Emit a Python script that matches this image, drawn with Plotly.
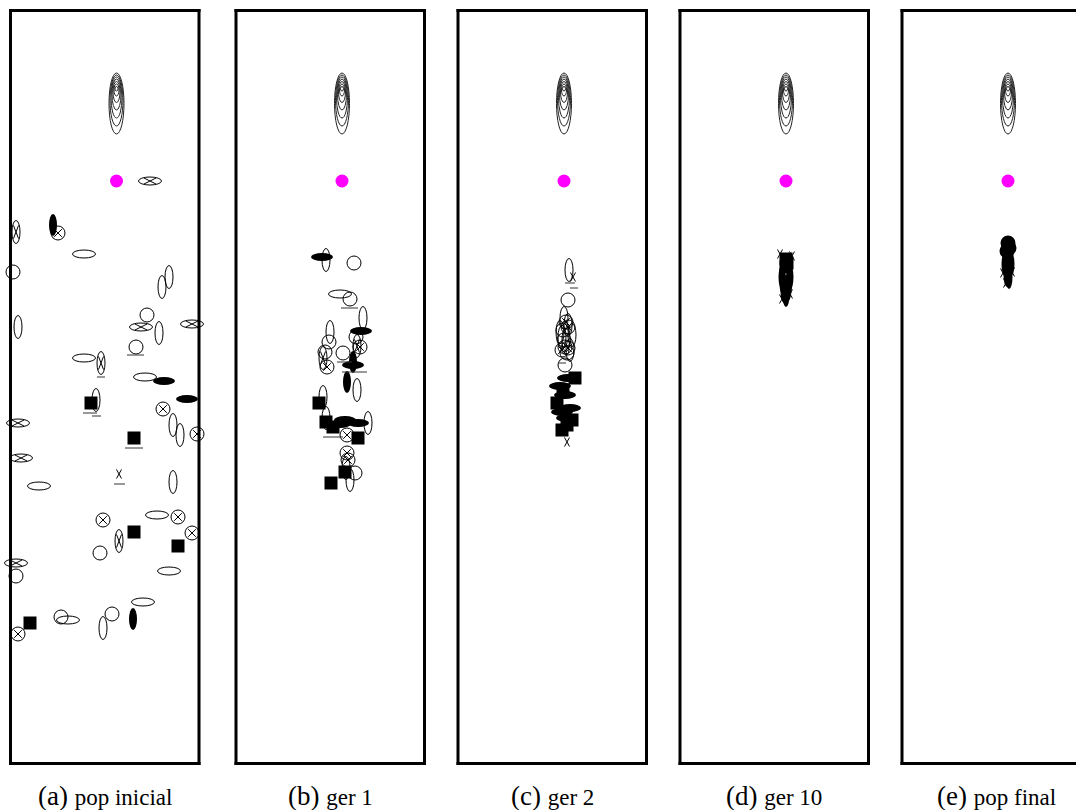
import plotly.graph_objects as go

# ---------------- data (panel coordinates: x right, y down, border box 0..188.5 x 0..753) ----------------
caption_tags = ["(a)", "(b)", "(c)", "(d)", "(e)"]
caption_texts = ["pop inicial", "ger 1", "ger 2", "ger 10", "pop final"]

# objective-function contour rings (centre x, tops, bottoms, half widths)
ring_cx = 106.0
ring_top = [62.5, 64.5, 66.5, 68.5, 71.0, 73.5, 76.0]
ring_bottom = [123.5, 115.5, 107.5, 99.5, 92.0, 85.5, 80.5]
ring_halfw = [7.5, 6.5, 5.5, 4.5, 3.5, 2.5, 1.5]

# global optimum (magenta)
optimum_x = [106.0]
optimum_y = [170.5]

# individuals: (kind, x, y)
pop_inicial = [
    ("hx", 139.5, 170.5), ("V", 42.5, 214.5), ("cx", 47.5, 222.5), ("vx", 5.5, 221.5),
    ("h", 73.5, 243.5), ("c", 2.5, 261.5), ("v", 151.5, 276.5), ("v", 158.5, 266.5),
    ("v", 7.5, 316.5), ("c", 136.5, 304.5), ("hx", 130.5, 316.5), ("v", 148.5, 322.5),
    ("hx", 181.5, 313.5), ("c", 125.5, 336.5), ("h", 73.5, 347.5), ("vx", 90.5, 352.5),
    ("h", 134.5, 366.5), ("H", 153.5, 370.5), ("H", 176.5, 388.5), ("S", 80.5, 392.5),
    ("v", 85.5, 389.5), ("cx", 152.5, 398.5), ("v", 162.5, 414.5), ("v", 169.5, 424.5),
    ("cx", 186.5, 423.5), ("hx", 7.5, 412.5), ("S", 123.5, 427.5), ("hx", 10.5, 447.5),
    ("X", 108.5, 463.5), ("h", 28.5, 475.5), ("v", 162.5, 471.5), ("cx", 92.5, 509.5),
    ("h", 146.5, 504.5), ("cx", 167.5, 506.5), ("S", 123.5, 521.5), ("vx", 108.5, 530.5),
    ("cx", 181.5, 522.5), ("S", 167.5, 535.5), ("c", 89.5, 542.5), ("hx", 5.5, 552.5),
    ("c", 5.5, 565.5), ("h", 158.5, 560.5), ("h", 132.5, 591.5), ("V", 122.5, 608.5),
    ("c", 101.5, 603.5), ("v", 92.5, 617.5), ("c", 50.5, 606.5), ("h", 57.5, 609.5),
    ("S", 19.5, 612.5), ("cx", 7.5, 623.5),
]
pop_inicial_marks = [(116.5, 133.5, 344.5), (86.5, 94.5, 366.5), (72.5, 86.5, 402.5),
                     (81.5, 90.5, 405.5), (114.5, 132.5, 437.5), (103.5, 114.5, 473.5)]

ger_1 = [
    ("H", 86, 246.5), ("v", 90, 249.5), ("c", 118, 252.5), ("h", 104, 283.5),
    ("c", 114, 288.5), ("v", 127, 307.5), ("v", 94, 321.5), ("c", 93, 331.5),
    ("H", 125, 320.5), ("c", 120, 326.5), ("vx", 121, 335.5), ("cx", 124, 336.5),
    ("vx", 87, 347.5), ("cx", 91, 356.5), ("c", 89, 341.5), ("c", 107, 342.5),
    ("H", 117, 354.5), ("V", 117, 351.5), ("V", 111, 371.5), ("v", 121, 379.5),
    ("v", 87, 386.5), ("S", 83, 392.5), ("v", 90, 407.5), ("S", 90, 411.5),
    ("H", 109, 409.5), ("H", 122, 412.5), ("H", 104, 413.5), ("v", 132, 412.5),
    ("S", 97, 416.5), ("cx", 111, 424.5), ("S", 122, 427.5), ("cx", 111, 442.5),
    ("cx", 112, 449.5), ("S", 109, 461.5), ("c", 119, 462.5), ("v", 114, 469.5),
    ("S", 95, 472.5), ("v", 110, 457.5),
]
ger_1_marks = [(105, 122, 297.5), (101, 116, 351.5), (106, 131, 361.5), (87, 107, 426.5)]

ger_2 = [
    ("v", 111, 259.5), ("X", 115, 266.5), ("c", 110, 289.5), ("v", 106, 307.5),
    ("v", 110, 314.5), ("cx", 108, 311.5), ("cx", 110, 316.5), ("c", 105, 319.5),
    ("v", 108, 329.5), ("cx", 110, 337.5), ("c", 107, 336.5), ("v", 112, 339.5),
    ("c", 109, 342.5), ("cx", 104, 339.5), ("c", 107, 354.5), ("v", 104, 326.5),
    ("v", 102, 321.5), ("v", 114, 324.5), ("c", 106, 329.5),
    ("S", 117, 367.5), ("H", 110, 367.5), ("H", 102, 375.5), ("S", 105, 379.5),
    ("H", 107, 384.5), ("S", 99, 392.5), ("H", 112, 397.5), ("H", 109, 407.5),
    ("S", 114, 409.5), ("S", 104, 419.5), ("S", 109, 414.5), ("H", 104, 401.5),
    ("X", 109, 431.5),
]
ger_2_marks = [(107, 117, 272.5), (112, 120, 277.5), (100, 108, 352.5)]

ger_10 = [
    ("S", 106, 248.5), ("S", 107, 252.5), ("S", 106, 256.5), ("t", 103, 272.5),
    ("t", 106, 276.5), ("t", 109, 271.5), ("t", 106, 284.5), ("t", 108, 278.5),
    ("t", 104, 280.5), ("t", 110, 266.5), ("t", 102, 266.5),
    ("X", 100, 243.5), ("X", 112, 245.5), ("X", 102, 288.5), ("X", 110, 283.5),
]
ger_10_marks = []

pop_final = [
    ("F", 106, 232.5), ("F", 107, 237.5), ("F", 105, 240.5), ("t", 103, 253.5),
    ("t", 106, 258.5), ("t", 109, 253.5), ("t", 105, 264.5), ("t", 107, 266.5),
    ("X", 101, 262.5), ("X", 110, 261.5), ("X", 104, 272.5),
]
pop_final_marks = []

populations = [pop_inicial, ger_1, ger_2, ger_10, pop_final]
population_marks = [pop_inicial_marks, ger_1_marks, ger_2_marks, ger_10_marks, pop_final_marks]

# ---------------- layout / styles ----------------
FIG_W, FIG_H = 1076, 810
PANEL_W, PANEL_H = 188.5, 753.0
TOP = 10.5
panel_left = [10.5, 236, 458, 680, 902]
PAD = 16
BW = 3  # border width

KIND = {  # (shape, rx, ry, filled, cross_dx, cross_dy)
    "c": ("circle", 7, 7, False, 0, 0),
    "cx": ("circle", 7, 7, False, 3.8, 3.8),
    "h": ("circle", 11.5, 4, False, 0, 0),
    "hx": ("circle", 11.5, 4, False, 6, 3),
    "v": ("circle", 4, 11.5, False, 0, 0),
    "vx": ("circle", 4, 11.5, False, 2.5, 6.5),
    "H": ("circle", 11, 4, True, 0, 0),
    "V": ("circle", 4, 11, True, 0, 0),
    "S": ("rect", 6.5, 6.5, True, 0, 0),
    "F": ("circle", 7.5, 7.5, True, 0, 0),
    "t": ("circle", 3.5, 12, True, 0, 0),
    "X": (None, 0, 0, False, 2.5, 4.5),
}

fig = go.Figure()
shapes = []
annotations = []
layout = {}

for i in range(5):
    sfx = "" if i == 0 else str(i + 1)
    xr, yr = "x" + sfx, "y" + sfx
    L = panel_left[i]
    d0 = max(0.0, (L - PAD) / FIG_W)
    d1 = min(1.0, (L + PANEL_W + PAD) / FIG_W)
    layout["xaxis" + sfx] = dict(domain=[d0, d1], range=[d0 * FIG_W - L, d1 * FIG_W - L],
                                 visible=False, anchor=yr, fixedrange=True)
    layout["yaxis" + sfx] = dict(domain=[0, 1], range=[FIG_H - TOP, -TOP],
                                 visible=False, anchor=xr, fixedrange=True)
    fig.add_trace(go.Scatter(x=optimum_x, y=optimum_y, xaxis=xr, yaxis=yr, mode="markers",
                             marker=dict(size=13, color="#ff00ff"), hoverinfo="skip",
                             showlegend=False))
    # panel border as four edges, extended by half the width so corners are square
    e = BW / 2
    edges = [(-e, 0, PANEL_W + e, 0), (PANEL_W, -e, PANEL_W, PANEL_H + e),
             (-e, PANEL_H, PANEL_W + e, PANEL_H), (0, -e, 0, PANEL_H + e)]
    for xa, ya, xb, yb in edges:
        shapes.append(dict(type="line", xref=xr, yref=yr, x0=xa, y0=ya, x1=xb, y1=yb,
                           line=dict(color="black", width=BW), layer="above"))
    for t, b, hw in zip(ring_top, ring_bottom, ring_halfw):
        shapes.append(dict(type="circle", xref=xr, yref=yr, x0=ring_cx - hw, x1=ring_cx + hw,
                           y0=t, y1=b, line=dict(color="#222", width=1)))
    for kind, x, y in populations[i]:
        shp, rx, ry, filled, cdx, cdy = KIND[kind]
        if shp is not None:
            shapes.append(dict(type=shp, xref=xr, yref=yr, x0=x - rx, x1=x + rx,
                               y0=y - ry, y1=y + ry,
                               fillcolor="black" if filled else "rgba(0,0,0,0)",
                               line=dict(color="black", width=0 if filled else 1)))
        if cdx > 0:
            for sgn in (1, -1):
                shapes.append(dict(type="line", xref=xr, yref=yr, x0=x - cdx, x1=x + cdx,
                                   y0=y - sgn * cdy, y1=y + sgn * cdy,
                                   line=dict(color="black", width=1)))
    for xa, xb, yy in population_marks[i]:
        shapes.append(dict(type="line", xref=xr, yref=yr, x0=xa, x1=xb, y0=yy, y1=yy,
                           line=dict(color="#333", width=1)))
    annotations.append(dict(xref=xr, yref=yr, x=PANEL_W / 2, y=785.0, showarrow=False,
                            text=f"{caption_tags[i]} <span style='font-size:23px'>{caption_texts[i]}</span>",
                            font=dict(family="Liberation Serif, DejaVu Serif, serif", size=27,
                                      color="black"),
                            xanchor="center", yanchor="middle"))

fig.update_layout(width=FIG_W, height=FIG_H, margin=dict(l=0, r=0, t=0, b=0),
                  paper_bgcolor="white", plot_bgcolor="white", showlegend=False,
                  shapes=shapes, annotations=annotations, **layout)

fig.write_html("out.html", config={"displayModeBar": False},
               post_script="document.body.style.margin='0px';document.body.style.overflow='hidden';")
